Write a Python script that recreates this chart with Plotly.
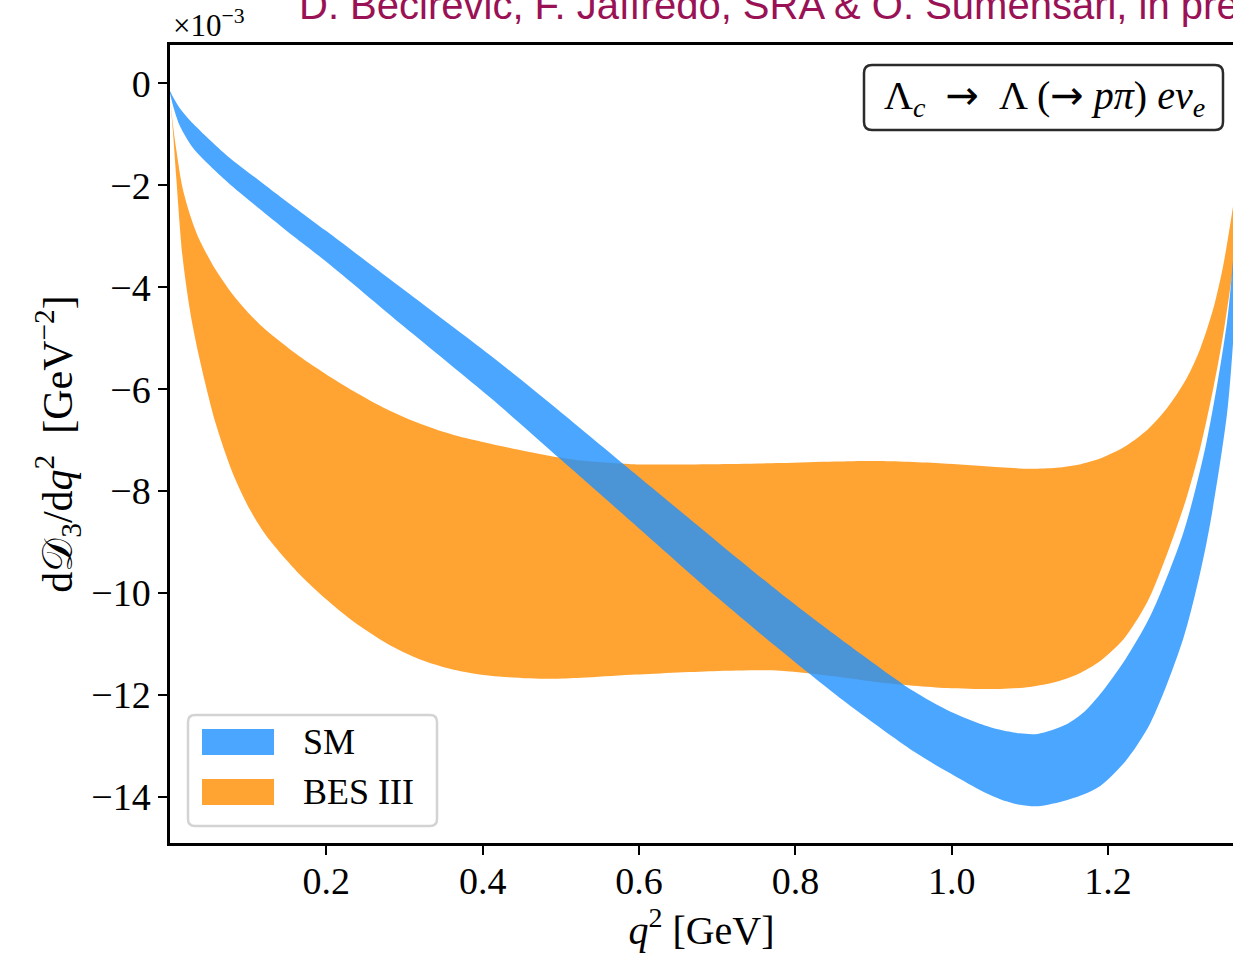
import plotly.graph_objects as go

# ---------------- data (values in units of 1e-3 GeV^-2) ----------------
q2_sm = [0, 0.005, 0.013, 0.03, 0.073, 0.116, 0.158, 0.2, 0.3, 0.41, 0.5, 0.6, 0.7,
         0.781, 0.866, 0.951, 0.994, 1.036, 1.062, 1.087, 1.11, 1.147, 1.17, 1.19, 1.222,
         1.254, 1.296, 1.326, 1.352, 1.36]
sm_upper = [-0.15, -0.3, -0.5, -0.8, -1.42, -1.93, -2.42, -2.9, -4.06, -5.34, -6.45,
            -7.72, -8.99, -10.0, -10.99, -11.92, -12.29, -12.56, -12.68, -12.75, -12.76,
            -12.57, -12.32, -11.98, -11.3, -10.45, -8.83, -7.03, -4.70, -3.44]
sm_lower = [-0.2, -0.5, -0.85, -1.28, -1.93, -2.48, -3.0, -3.5, -4.78, -6.17, -7.38,
            -8.73, -10.08, -11.12, -12.16, -13.1, -13.5, -13.86, -14.04, -14.15, -14.18,
            -14.06, -13.94, -13.78, -13.3, -12.55, -10.9, -9.01, -6.5, -5.06]

q2_bes = [0, 0.004, 0.008, 0.016, 0.026, 0.037, 0.058, 0.079, 0.1, 0.122, 0.165, 0.199,
          0.235, 0.278, 0.32, 0.363, 0.41, 0.483, 0.526, 0.59, 0.695, 0.781, 0.85, 0.908,
          0.994, 1.062, 1.1, 1.134, 1.165, 1.19, 1.22, 1.25, 1.275, 1.3, 1.318, 1.335,
          1.347, 1.36]
bes_upper = [-0.25, -0.85, -1.3, -2.05, -2.6, -3.05, -3.65, -4.12, -4.5, -4.83, -5.35,
             -5.7, -6.04, -6.4, -6.68, -6.9, -7.07, -7.3, -7.4, -7.47, -7.47, -7.45, -7.42,
             -7.41, -7.46, -7.53, -7.56, -7.54, -7.47, -7.36, -7.14, -6.8, -6.38, -5.8,
             -5.2, -4.4, -3.6, -2.4]
bes_lower = [-0.25, -1.0, -1.85, -3.4, -4.5, -5.35, -6.65, -7.6, -8.3, -8.85, -9.62,
             -10.11, -10.56, -10.99, -11.3, -11.5, -11.62, -11.68, -11.66, -11.6, -11.53,
             -11.52, -11.63, -11.75, -11.86, -11.88, -11.84, -11.74, -11.56, -11.33, -10.9,
             -10.18, -9.25, -8.15, -7.15, -5.95, -4.95, -3.62]

x_ticks = [0.2, 0.4, 0.6, 0.8, 1.0, 1.2]
x_ticklabels = ["0.2", "0.4", "0.6", "0.8", "1.0", "1.2"]
y_ticks = [0, -2, -4, -6, -8, -10, -12, -14]
y_ticklabels = ["0", "\u22122", "\u22124", "\u22126", "\u22128", "\u221210", "\u221212", "\u221214"]

series_names = ["SM", "BES III"]
title_text = "D. Becirevic, F. Jaffredo, SRA &amp; O. Sumensari, in prep"
ARW = "<span style='font-family:DejaVu Sans'>\u2192</span>"
process_text = ("\u039b<sub><i>c</i></sub>  " + ARW + "  \u039b (" + ARW +
                " <i>p\u03c0</i>) <i>e\u03bd<sub>e</sub></i>")

# ---------------- styling ----------------
W, H = 1233, 958
ML, MR, MT, MB = 170, 0, 45, 115
PW, PH = W - ML - MR, H - MT - MB
C_SM = "rgba(30,144,255,0.8)"
C_BES = "rgba(255,140,0,0.8)"
SERIF = "Liberation Serif, DejaVu Serif, serif"
SMOOTH = 0.8


def px(X):
    return (X - ML) / PW


def py(Y):
    return (H - MB - Y) / PH


def rrect(X0, Y0, X1, Y1, r):
    xl, xr, yt, yb = px(X0), px(X1), py(Y0), py(Y1)
    rx, ry = r / PW, r / PH
    return (f"M {xl+rx},{yb} L {xr-rx},{yb} Q {xr},{yb} {xr},{yb+ry} "
            f"L {xr},{yt-ry} Q {xr},{yt} {xr-rx},{yt} L {xl+rx},{yt} "
            f"Q {xl},{yt} {xl},{yt-ry} L {xl},{yb+ry} Q {xl},{yb} {xl+rx},{yb} Z")


fig = go.Figure()
# BES III band (drawn first, underneath)
fig.add_trace(go.Scatter(x=q2_bes, y=bes_lower, mode="lines",
                         line=dict(width=0, shape="spline", smoothing=SMOOTH),
                         showlegend=False, hoverinfo="skip"))
fig.add_trace(go.Scatter(x=q2_bes, y=bes_upper, mode="lines",
                         line=dict(width=0, shape="spline", smoothing=SMOOTH),
                         fill="tonexty", fillcolor=C_BES, name=series_names[1], showlegend=False))
# SM band on top
fig.add_trace(go.Scatter(x=q2_sm, y=sm_lower, mode="lines",
                         line=dict(width=0, shape="spline", smoothing=SMOOTH),
                         showlegend=False, hoverinfo="skip"))
fig.add_trace(go.Scatter(x=q2_sm, y=sm_upper, mode="lines",
                         line=dict(width=0, shape="spline", smoothing=SMOOTH),
                         fill="tonexty", fillcolor=C_SM, name=series_names[0], showlegend=False))

shapes = [
    # legend frame
    dict(type="path", xref="paper", yref="paper", path=rrect(188, 715, 437, 826, 7),
         line=dict(color="#d3d3d3", width=2.5), fillcolor="rgba(255,255,255,0.8)", layer="above"),
    dict(type="rect", xref="paper", yref="paper", x0=px(202), x1=px(274), y0=py(755), y1=py(729),
         line=dict(width=0), fillcolor=C_SM),
    dict(type="rect", xref="paper", yref="paper", x0=px(202), x1=px(274), y0=py(805), y1=py(779),
         line=dict(width=0), fillcolor=C_BES),
    # process box
    dict(type="path", xref="paper", yref="paper", path=rrect(864, 65, 1223, 130, 8),
         line=dict(color="#2b2b2b", width=2.5), fillcolor="rgba(255,255,255,0.9)", layer="above"),
]

annotations = [
    dict(text=series_names[0], xref="paper", yref="paper", x=px(301), y=py(742), xanchor="left",
         yanchor="middle", showarrow=False, font=dict(family=SERIF, size=36, color="black")),
    dict(text=series_names[1], xref="paper", yref="paper", x=px(301), y=py(792), xanchor="left",
         yanchor="middle", showarrow=False, font=dict(family=SERIF, size=36, color="black")),
    dict(text=process_text, xref="paper", yref="paper", x=px(1044), y=py(97), xanchor="center",
         yanchor="middle", showarrow=False, font=dict(family=SERIF, size=40, color="black")),
    dict(text="\u00d710<sup>\u22123</sup>", xref="paper", yref="paper", x=px(171), y=py(45),
         xanchor="left", yanchor="bottom", showarrow=False, font=dict(family=SERIF, size=31, color="black")),
    dict(text=title_text, xref="paper", yref="paper", x=px(297), y=py(5), xanchor="left",
         yanchor="middle", showarrow=False,
         font=dict(family="Liberation Sans, Arial, sans-serif", size=40, color="#9a1256")),
]

fig.update_layout(
    width=W, height=H,
    margin=dict(l=ML, r=MR, t=MT, b=MB, pad=0),
    paper_bgcolor="white", plot_bgcolor="white",
    showlegend=False,
    shapes=shapes, annotations=annotations,
    font=dict(family=SERIF, color="black"),
)
fig.update_xaxes(
    range=[0, 1.3598], tickvals=x_ticks, ticktext=x_ticklabels,
    ticks="outside", ticklen=9, tickwidth=2, tickcolor="black",
    showline=True, linewidth=2.5, linecolor="black", mirror=True,
    showgrid=False, zeroline=False, ticklabelstandoff=-6,
    tickfont=dict(family=SERIF, size=38),
    title=dict(text="<i>q</i><sup>2</sup> [GeV]", font=dict(family=SERIF, size=40), standoff=4),
)
fig.update_yaxes(
    range=[-14.9, 0.75], tickvals=y_ticks, ticktext=y_ticklabels,
    ticks="outside", ticklen=9, tickwidth=2, tickcolor="black",
    showline=True, linewidth=2.5, linecolor="black", mirror=False,
    showgrid=False, zeroline=False,
    tickfont=dict(family=SERIF, size=38),
    title=dict(text="d\U0001d49f<sub>3</sub>/d<i>q</i><sup>2</sup>  [GeV<sup>\u22122</sup>]",
               font=dict(family=SERIF, size=42), standoff=6),
)

fig.write_html("out.html")
